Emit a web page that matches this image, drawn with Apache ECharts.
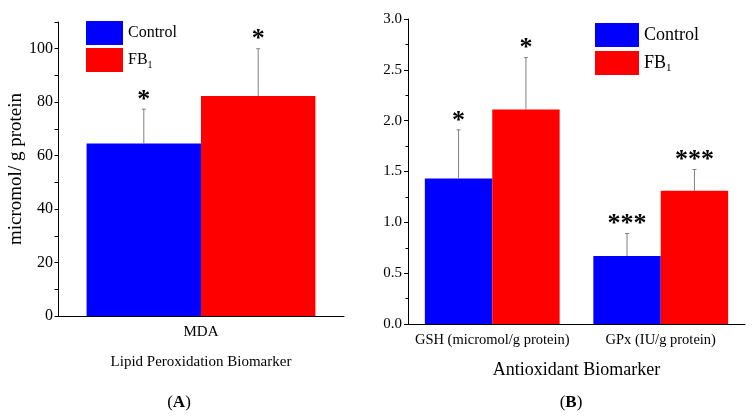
<!DOCTYPE html>
<html>
<head>
<meta charset="utf-8">
<script src="https://cdn.jsdelivr.net/npm/echarts@6/dist/echarts.min.js"></script>
<style>html,body{margin:0;padding:0;background:#fff;}#c{width:754px;height:420px;}</style>
</head>
<body>
<div id="c"></div>
<script>
// ---- data ----
const seriesNames = ['Control', 'FB1'];
const catA = ['MDA'];
const controlA = [64.5];
const fbA = [82.3];
const controlAErr = [12.9];
const fbAErr = [17.7];
const starsControlA = ['*'];
const starsFbA = ['*'];

const catB = ['GSH (micromol/g protein)', 'GPx (IU/g protein)'];
const controlB = [1.43, 0.67];
const fbB = [2.11, 1.31];
const controlBErr = [0.48, 0.22];
const fbBErr = [0.51, 0.21];
const starsControlB = ['*', '***'];
const starsFbB = ['*', '***'];

const FONT = '"Liberation Serif", "DejaVu Serif", serif';
const BLUE = '#0000FF';
const RED = '#FF0000';

function errSeries(name, xi, vals, errs, stars, sign) {
  return {
    type: 'custom', name: name, xAxisIndex: xi, yAxisIndex: xi, z: 5, silent: true,
    data: vals.map((v, i) => [i, v, errs[i]]),
    renderItem: function (params, api) {
      const i = api.value(0), v = api.value(1), e = api.value(2);
      const band = api.size([1, 0])[0];
      const base = api.coord([i, v]);
      const top = api.coord([i, v + e]);
      const x = base[0] + sign * band * 0.2;
      const st = stars[params.dataIndex];
      return {
        type: 'group', children: [
          { type: 'line', shape: { x1: x, y1: base[1], x2: x, y2: top[1] }, style: { stroke: '#808080', lineWidth: 1 } },
          { type: 'line', shape: { x1: x - 2, y1: top[1], x2: x + 2, y2: top[1] }, style: { stroke: '#808080', lineWidth: 1 } },
          { type: 'text', x: x, y: top[1] - 9, style: { text: st, font: 'bold 26px ' + FONT, textAlign: 'center', textVerticalAlign: 'middle', fill: '#000' } }
        ]
      };
    }
  };
}

function legendRich(fs, sfs, pad) {
  return {
    n: { fontSize: fs, fontFamily: FONT, color: '#000' },
    sub: { fontSize: sfs, fontFamily: FONT, color: '#000', verticalAlign: 'bottom', padding: [pad, 0, 0, 0] }
  };
}
function legendFmt(n) { return n === 'FB1' ? '{n|FB}{sub|1}' : '{n|' + n + '}'; }

const axisLineStyle = { lineStyle: { color: '#000', width: 1 } };

const chart = echarts.init(document.getElementById('c'), null, { renderer: 'canvas' });
chart.setOption({
  animation: false,
  backgroundColor: '#fff',
  grid: [
    { left: 58, right: 410, top: 22, bottom: 104 },
    { left: 408, right: 9, top: 19, bottom: 96 }
  ],
  legend: [
    { data: seriesNames, orient: 'vertical', left: 86, top: 21, padding: 0, itemGap: 3, itemWidth: 37, itemHeight: 24, icon: 'rect',
      formatter: legendFmt, textStyle: { fontFamily: FONT, fontSize: 16, color: '#000', rich: legendRich(16, 10, 10) }, selectedMode: false },
    { data: seriesNames, orient: 'vertical', left: 595, top: 23, padding: 0, itemGap: 4, itemWidth: 44, itemHeight: 24, icon: 'rect',
      formatter: legendFmt, textStyle: { fontFamily: FONT, fontSize: 18, color: '#000', rich: legendRich(18, 11, 11) }, selectedMode: false }
  ],
  xAxis: [
    { type: 'category', gridIndex: 0, data: catA, axisLine: axisLineStyle,
      axisTick: { alignWithLabel: true, length: 4, lineStyle: { color: '#000' } },
      axisLabel: { fontFamily: FONT, fontSize: 15, color: '#000', margin: 9 },
      name: 'Lipid Peroxidation Biomarker', nameLocation: 'middle', nameGap: 39,
      nameTextStyle: { fontFamily: FONT, fontSize: 15, color: '#000' } },
    { type: 'category', gridIndex: 1, data: catB, axisLine: axisLineStyle,
      axisTick: { alignWithLabel: true, length: 4, lineStyle: { color: '#000' } },
      axisLabel: { fontFamily: FONT, fontSize: 14.5, color: '#000', margin: 9, interval: 0 },
      name: 'Antioxidant Biomarker', nameLocation: 'middle', nameGap: 37,
      nameTextStyle: { fontFamily: FONT, fontSize: 18, color: '#000' } }
  ],
  yAxis: [
    { type: 'value', gridIndex: 0, min: 0, max: 110, interval: 10, splitLine: { show: false },
      axisLine: { show: true, lineStyle: { color: '#000' } },
      axisTick: { show: true, length: 3.5, lineStyle: { color: '#000' } },
      axisLabel: { fontFamily: FONT, fontSize: 16, color: '#000', margin: 5,
        formatter: function (v) { return (v % 20 === 0 && v <= 100) ? String(v) : ''; } },
      name: 'micromol/ g protein', nameLocation: 'middle', nameGap: 30, nameRotate: 90,
      nameTextStyle: { fontFamily: FONT, fontSize: 19, color: '#000' } },
    { type: 'value', gridIndex: 1, min: 0, max: 3, interval: 0.5, splitLine: { show: false },
      axisLine: { show: true, lineStyle: { color: '#000' } },
      axisTick: { show: true, length: 4, lineStyle: { color: '#000' } },
      minorTick: { show: true, splitNumber: 2, length: 2.5, lineStyle: { color: '#000' } },
      axisLabel: { fontFamily: FONT, fontSize: 15, color: '#000', margin: 6,
        formatter: function (v) { return v.toFixed(1); } } }
  ],
  series: [
    { type: 'bar', name: 'Control', xAxisIndex: 0, yAxisIndex: 0, data: controlA, barGap: '0%', barCategoryGap: '20%', itemStyle: { color: BLUE } },
    { type: 'bar', name: 'FB1', xAxisIndex: 0, yAxisIndex: 0, data: fbA, barGap: '0%', barCategoryGap: '20%', itemStyle: { color: RED } },
    { type: 'bar', name: 'Control', xAxisIndex: 1, yAxisIndex: 1, data: controlB, barGap: '0%', barCategoryGap: '20%', itemStyle: { color: BLUE } },
    { type: 'bar', name: 'FB1', xAxisIndex: 1, yAxisIndex: 1, data: fbB, barGap: '0%', barCategoryGap: '20%', itemStyle: { color: RED } },
    errSeries('errA0', 0, controlA, controlAErr, starsControlA, -1),
    errSeries('errA1', 0, fbA, fbAErr, starsFbA, 1),
    errSeries('errB0', 1, controlB, controlBErr, starsControlB, -1),
    errSeries('errB1', 1, fbB, fbBErr, starsFbB, 1)
  ],
  graphic: [
    { type: 'text', x: 179, y: 403, style: { text: '({b|A})', font: '17px ' + FONT, fill: '#000', textAlign: 'center', textVerticalAlign: 'middle',
      rich: { b: { fontWeight: 'bold', fontSize: 17, fontFamily: FONT } } } },
    { type: 'text', x: 571, y: 403, style: { text: '({b|B})', font: '17px ' + FONT, fill: '#000', textAlign: 'center', textVerticalAlign: 'middle',
      rich: { b: { fontWeight: 'bold', fontSize: 17, fontFamily: FONT } } } }
  ]
});
</script>
</body>
</html>
